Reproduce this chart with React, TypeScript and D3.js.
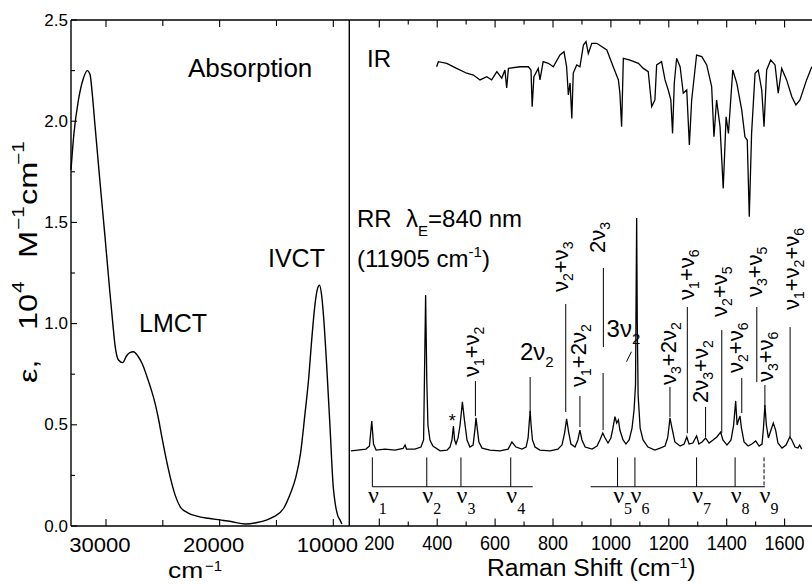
import React from "react";
import * as d3 from "d3";

// ---------- data ----------
// Absorption spectrum: [wavenumber cm-1, epsilon (10^4 M-1 cm-1)]
const absorption: [number, number][] = [
  [33080, 1.76], [32820, 1.94], [32440, 2.1], [32000, 2.21], [31650, 2.25], [31400, 2.23],
  [31200, 2.13], [30970, 1.98], [30530, 1.7], [30090, 1.43], [29650, 1.15], [29400, 1.0],
  [29200, 0.89], [28900, 0.82], [28530, 0.807], [28200, 0.84], [27900, 0.857], [27590, 0.861],
  [27200, 0.84], [26800, 0.8], [26410, 0.74], [26000, 0.67], [25680, 0.606], [25350, 0.52],
  [25090, 0.441], [24700, 0.33], [24360, 0.244], [23900, 0.15], [23470, 0.095], [22800, 0.065],
  [22000, 0.049], [21000, 0.038], [20000, 0.03], [19000, 0.022], [17740, 0.01], [16800, 0.016],
  [15830, 0.03], [15230, 0.046], [14350, 0.089], [13760, 0.163], [13300, 0.24], [12880, 0.36],
  [12500, 0.55], [12150, 0.74], [11900, 0.92], [11600, 1.1], [11400, 1.17], [11220, 1.19],
  [11050, 1.15], [10850, 1.03], [10590, 0.8], [10300, 0.5], [10000, 0.19], [9800, 0.1],
  [9600, 0.05], [9410, 0.03], [9250, 0.01],
];

// IR spectrum (offset trace): [cm-1, relative]
const irSpectrum: [number, number][] = [
  [398, 2.269], [404, 2.294], [433, 2.286], [467, 2.261], [502, 2.237], [525, 2.228], [548, 2.204],
  [571, 2.22], [588, 2.204], [606, 2.245], [623, 2.213], [634, 2.253], [640, 2.164], [646, 2.261],
  [686, 2.269], [715, 2.269], [724, 2.253], [728, 2.072], [734, 2.22], [749, 2.261], [755, 2.204],
  [766, 2.294], [784, 2.286], [801, 2.269], [824, 2.327], [838, 2.343], [847, 2.269], [853, 2.13],
  [859, 2.189], [865, 2.014], [870, 2.238], [882, 2.278], [893, 2.269], [905, 2.376], [914, 2.393],
  [922, 2.335], [934, 2.385], [951, 2.385], [986, 2.352], [1008, 2.269], [1026, 2.204], [1031, 2.139],
  [1037, 1.973], [1043, 2.311], [1066, 2.302], [1095, 2.286], [1112, 2.261], [1129, 2.245],
  [1141, 2.072], [1152, 2.105], [1158, 2.278], [1175, 2.294], [1187, 2.204], [1198, 2.154],
  [1207, 2.105], [1213, 1.94], [1219, 2.189], [1227, 2.311], [1239, 2.269], [1250, 2.138],
  [1262, 2.154], [1271, 1.882], [1279, 2.105], [1296, 2.327], [1314, 2.319], [1331, 2.278],
  [1348, 2.171], [1356, 1.923], [1365, 2.105], [1377, 1.973], [1388, 1.668], [1398, 2.022],
  [1406, 1.94], [1421, 2.253], [1435, 2.187], [1452, 2.055], [1463, 1.923], [1471, 1.907],
  [1478, 1.528], [1486, 1.94], [1498, 2.237], [1509, 2.253], [1521, 2.154], [1529, 1.973],
  [1538, 2.253], [1552, 2.302], [1567, 2.278], [1578, 2.138], [1590, 2.261], [1607, 2.204],
  [1625, 2.121], [1639, 2.08], [1653, 2.105], [1676, 2.204], [1694, 2.269],
];

// Resonance Raman spectrum: [Raman shift cm-1, relative]
const rrSpectrum: [number, number][] = [
  [102, 0.371], [126, 0.375], [154, 0.38], [166, 0.395], [174, 0.519], [180, 0.405], [189, 0.375],
  [220, 0.38], [254, 0.375], [282, 0.383], [289, 0.4], [294, 0.38], [323, 0.38], [344, 0.39],
  [353, 0.425], [356, 0.731], [360, 1.141], [364, 0.721], [368, 0.499], [375, 0.425], [385, 0.395],
  [410, 0.371], [434, 0.375], [444, 0.39], [451, 0.425], [456, 0.494], [460, 0.425], [465, 0.405],
  [472, 0.435], [479, 0.499], [487, 0.613], [494, 0.524], [503, 0.425], [513, 0.39], [524, 0.4],
  [530, 0.474], [534, 0.534], [539, 0.474], [544, 0.415], [555, 0.385], [582, 0.375], [617, 0.371],
  [645, 0.38], [658, 0.415], [672, 0.39], [693, 0.38], [707, 0.39], [714, 0.435], [718, 0.514],
  [721, 0.568], [724, 0.504], [729, 0.425], [738, 0.39], [755, 0.375], [790, 0.371], [817, 0.38],
  [831, 0.4], [840, 0.459], [847, 0.529], [854, 0.464], [862, 0.405], [876, 0.39], [886, 0.425],
  [893, 0.474], [900, 0.425], [911, 0.39], [935, 0.38], [952, 0.395], [962, 0.425], [972, 0.459],
  [980, 0.435], [990, 0.41], [1000, 0.435], [1007, 0.484], [1014, 0.54], [1020, 0.509], [1026, 0.524],
  [1031, 0.474], [1042, 0.425], [1052, 0.405], [1063, 0.425], [1073, 0.484], [1080, 0.573],
  [1085, 0.697], [1087, 1.117], [1089, 1.522], [1091, 1.018], [1094, 0.647], [1101, 0.484],
  [1111, 0.425], [1128, 0.39], [1152, 0.375], [1170, 0.385], [1187, 0.395], [1196, 0.435],
  [1201, 0.494], [1204, 0.534], [1211, 0.484], [1221, 0.415], [1239, 0.395], [1253, 0.405],
  [1262, 0.44], [1270, 0.405], [1283, 0.41], [1296, 0.445], [1304, 0.405], [1315, 0.415],
  [1327, 0.435], [1339, 0.41], [1353, 0.425], [1366, 0.44], [1379, 0.464], [1387, 0.425],
  [1401, 0.4], [1415, 0.425], [1424, 0.499], [1431, 0.618], [1436, 0.499], [1441, 0.524],
  [1446, 0.543], [1451, 0.484], [1460, 0.415], [1474, 0.395], [1487, 0.405], [1500, 0.42],
  [1512, 0.395], [1522, 0.405], [1527, 0.484], [1532, 0.598], [1537, 0.499], [1544, 0.435],
  [1553, 0.474], [1561, 0.509], [1569, 0.474], [1577, 0.41], [1591, 0.385], [1605, 0.4],
  [1613, 0.425], [1618, 0.44], [1625, 0.425], [1636, 0.39], [1646, 0.385], [1652, 0.4], [1659, 0.38],
];

// ticks
const leftXMajor = [30000, 20000, 10000];
const leftXMinor = [25000, 15000];
const yMajor = [0, 0.5, 1.0, 1.5, 2.0, 2.5];
const yMinor = [0.25, 0.75, 1.25, 1.75, 2.25];
const ramanMajor = [200, 400, 600, 800, 1000, 1200, 1400, 1600];
const ramanMinor = [300, 500, 700, 900, 1100, 1300, 1500];

// fundamental modes (bottom markers)
const fundamentals = [
  { n: "1", wn: 176 }, { n: "2", wn: 364 }, { n: "3", wn: 482 }, { n: "4", wn: 654 },
  { n: "5", wn: 1023 }, { n: "6", wn: 1083 }, { n: "7", wn: 1296 }, { n: "8", wn: 1429 },
  { n: "9", wn: 1529 },
];
const fundTop = 0.339;
const fundBase = 0.194;
const bracketSpans: [number, number][] = [[176, 730], [930, 1532]];

// combination / overtone assignments: vertical labels
const combos = [
  { text: "ν_1+ν_2", wn: 532, top: 0.716, bottom: 0.543, tWn: 524, tVal: 0.736 },
  { text: "ν_2+ν_3", wn: 844, top: 1.097, bottom: 0.563, tWn: 831, tVal: 1.156 },
  { text: "ν_1+2ν_2", wn: 893, top: 0.642, bottom: 0.489, tWn: 893, tVal: 0.687 },
  { text: "2ν_3", wn: 974, top: 1.275, bottom: 0.884, tWn: 959, tVal: 1.349 },
  { text: "ν_3+2ν_2", wn: 1204, top: 0.687, bottom: 0.539, tWn: 1204, tVal: 0.697 },
  { text: "ν_1+ν_6", wn: 1264, top: 1.082, bottom: 0.459, tWn: 1266, tVal: 1.117 },
  { text: "2ν_3+ν_2", wn: 1327, top: 0.588, bottom: 0.44, tWn: 1314, tVal: 0.608 },
  { text: "ν_2+ν_5", wn: 1383, top: 0.968, bottom: 0.459, tWn: 1380, tVal: 1.033 },
  { text: "ν_2+ν_6", wn: 1452, top: 0.731, bottom: 0.558, tWn: 1436, tVal: 0.756 },
  { text: "ν_3+ν_5", wn: 1504, top: 1.082, bottom: 0.711, tWn: 1501, tVal: 1.131 },
  { text: "ν_3+ν_6", wn: 1532, top: 0.697, bottom: 0.588, tWn: 1539, tVal: 0.711 },
  { text: "ν_1+ν_2+ν_6", wn: 1619, top: 0.983, bottom: 0.44, tWn: 1629, tVal: 1.067 },
];
// extra marker lines (second 2ν3 segment, 2ν2 line)
const extraLines = [
  { wn: 973, top: 0.756, bottom: 0.474 },
  { wn: 721, top: 0.736, bottom: 0.558 },
];
// horizontal labels
const hLabels = [
  { text: "2ν_2", wn: 686, val: 0.82 },
  { text: "3ν_2", wn: 985, val: 0.934 },
];
const slash: [number, number][] = [[1054, 0.812], [1071, 0.861]];
const star = { wn: 452, val: 0.489 };

// ---------- layout ----------
const W = 812;
const H = 584;
const LX0 = 71;
const DIV = 349.3;
const RX1 = 812;
const TOP = 20;
const BOT = 526;
const FONT = "'Liberation Sans', Arial, Helvetica, sans-serif";
const SERIF = "'Liberation Serif', 'Times New Roman', serif";

const xL = d3.scaleLinear().domain([30000, 10000]).range([106, 333.3]);
const xR = d3.scaleLinear().domain([200, 1600]).range([379.3, 784.6]);
const y = d3.scaleLinear().domain([0, 2.5]).range([BOT, TOP]);

function parse(s: string) {
  const out: { t: string; sub: boolean }[] = [];
  let buf = "";
  for (let i = 0; i < s.length; i++) {
    if (s[i] === "_" && i + 1 < s.length) {
      if (buf) out.push({ t: buf, sub: false });
      buf = "";
      out.push({ t: s[i + 1], sub: true });
      i++;
    } else buf += s[i];
  }
  if (buf) out.push({ t: buf, sub: false });
  return out;
}

function rich(s: string, subSize: number, subDy: number) {
  const ps = parse(s);
  let shifted = false;
  return ps.map((p, i) => {
    let dy = 0;
    if (p.sub && !shifted) { dy = subDy; shifted = true; }
    else if (!p.sub && shifted) { dy = -subDy; shifted = false; }
    return (
      <tspan key={i} dy={dy || undefined} fontSize={p.sub ? subSize : undefined}>
        {p.t}
      </tspan>
    );
  });
}

export default function App() {
  const absLine = d3
    .line<[number, number]>()
    .x((d) => xL(d[0]))
    .y((d) => y(d[1]))
    .curve(d3.curveMonotoneX);
  const rLine = d3
    .line<[number, number]>()
    .x((d) => xR(d[0]))
    .y((d) => y(d[1]));

  const stroke = "#000";
  return (
    <svg
      width={W}
      height={H}
      viewBox={`0 0 ${W} ${H}`}
      style={{ position: "absolute", left: 0, top: 0, background: "#fff" }}
      fontFamily={FONT}
    >
      <rect x={0} y={0} width={W} height={H} fill="#fff" />
      {/* frames */}
      <g stroke={stroke} strokeWidth={1.4} fill="none">
        <line x1={LX0} y1={TOP} x2={RX1} y2={TOP} />
        <line x1={LX0} y1={BOT} x2={RX1} y2={BOT} />
        <line x1={LX0} y1={TOP} x2={LX0} y2={BOT} />
        <line x1={DIV} y1={TOP} x2={DIV} y2={BOT} />
      </g>
      {/* ticks */}
      <g stroke={stroke} strokeWidth={1.1}>
        {leftXMajor.map((v) => (
          <g key={"lm" + v}>
            <line x1={xL(v)} x2={xL(v)} y1={BOT} y2={BOT - 7} />
            <line x1={xL(v)} x2={xL(v)} y1={TOP} y2={TOP + 7} />
          </g>
        ))}
        {leftXMinor.map((v) => (
          <g key={"ln" + v}>
            <line x1={xL(v)} x2={xL(v)} y1={BOT} y2={BOT - 6} />
            <line x1={xL(v)} x2={xL(v)} y1={TOP} y2={TOP + 6} />
          </g>
        ))}
        {yMajor.map((v) => (
          <line key={"ym" + v} x1={LX0} x2={LX0 + 6} y1={y(v)} y2={y(v)} />
        ))}
        {yMinor.map((v) => (
          <line key={"yn" + v} x1={LX0} x2={LX0 + 4} y1={y(v)} y2={y(v)} />
        ))}
        {ramanMajor.map((v) => (
          <g key={"rm" + v}>
            <line x1={xR(v)} x2={xR(v)} y1={BOT} y2={BOT - 7.5} />
            <line x1={xR(v)} x2={xR(v)} y1={TOP} y2={TOP + 7.5} />
          </g>
        ))}
        {ramanMinor.map((v) => (
          <g key={"rn" + v}>
            <line x1={xR(v)} x2={xR(v)} y1={BOT} y2={BOT - 4.5} />
            <line x1={xR(v)} x2={xR(v)} y1={TOP} y2={TOP + 4.5} />
          </g>
        ))}
      </g>
      {/* tick labels */}
      <g fontSize={17} textAnchor="end" fill="#000">
        {yMajor.map((v) => (
          <text key={"yl" + v} x={68} y={y(v) + 5.5}>
            {v.toFixed(1)}
          </text>
        ))}
      </g>
      <g fontSize={21} textAnchor="middle" fill="#000">
        {leftXMajor.map((v) => (
          <text key={"xl" + v} transform={`translate(${xL(v) - 6},552) scale(1.05,1)`}>
            {v}
          </text>
        ))}
      </g>
      <g fontSize={20} textAnchor="middle" fill="#000">
        {ramanMajor.map((v) => (
          <text key={"xr" + v} transform={`translate(${xR(v)},550) scale(0.9,1)`}>
            {v}
          </text>
        ))}
      </g>
      {/* axis titles */}
      <text transform="translate(37,383) rotate(-90) scale(1.3,1)" fontSize={25} fill="#000">
        <tspan x={0}>ε,</tspan>
        <tspan x={40.8}>10</tspan>
        <tspan x={69.2} dy={-13} fontSize={16}>4</tspan>
        <tspan x={96.2} dy={13}>M</tspan>
        <tspan x={117.7} dy={-13} fontSize={16}>−1</tspan>
        <tspan x={137} dy={13}>cm</tspan>
        <tspan x={167.7} dy={-13} fontSize={16}>−1</tspan>
      </text>
      <text transform="translate(168,578) scale(1.2,1)" fontSize={22} fill="#000">
        cm
      </text>
      <text x={205} y={571} fontSize={15} fill="#000">−1</text>
      <text transform="translate(487,576) scale(1.05,1)" fontSize={23.5} fill="#000">
        Raman Shift (cm
        <tspan dy={-8} fontSize={14}>−1</tspan>
        <tspan dy={8}>)</tspan>
      </text>

      {/* left panel content */}
      <path d={absLine(absorption) || ""} fill="none" stroke={stroke} strokeWidth={1.4} />
      <g fontSize={25} fill="#000">
        <text x={188} y={77} fontSize={26}>Absorption</text>
        <text x={268} y={267}>IVCT</text>
        <text x={139} y={332}>LMCT</text>
      </g>

      {/* right panel content */}
      <path d={rLine(irSpectrum) || ""} fill="none" stroke={stroke} strokeWidth={1.3} />
      <path d={rLine(rrSpectrum) || ""} fill="none" stroke={stroke} strokeWidth={1.3} />
      <g fontSize={24} fill="#000">
        <text x={367} y={67}>IR</text>
        <text x={357} y={227}>RR</text>
        <text x={406} y={227}>
          λ
          <tspan dy={9} fontSize={15}>E</tspan>
          <tspan dy={-9}>=840 nm</tspan>
        </text>
        <text x={357} y={267}>
          (11905 cm
          <tspan dy={-10} fontSize={15}>-1</tspan>
          <tspan dy={10}>)</tspan>
        </text>
      </g>

      {/* assignment lines */}
      <g stroke={stroke} strokeWidth={1}>
        {combos.map((c, i) => (
          <line key={"cl" + i} x1={xR(c.wn)} x2={xR(c.wn)} y1={y(c.top)} y2={y(c.bottom)} />
        ))}
        {extraLines.map((c, i) => (
          <line key={"el" + i} x1={xR(c.wn)} x2={xR(c.wn)} y1={y(c.top)} y2={y(c.bottom)} />
        ))}
        <line x1={xR(slash[0][0])} y1={y(slash[0][1])} x2={xR(slash[1][0])} y2={y(slash[1][1])} />
      </g>
      <g fontSize={22} fill="#000">
        {combos.map((c, i) => (
          <text
            key={"ct" + i}
            transform={`translate(${xR(c.tWn) + 6},${y(c.tVal)}) rotate(-90)`}
          >
            {rich(c.text, 14, 5)}
          </text>
        ))}
        {hLabels.map((h, i) => (
          <text key={"hl" + i} x={xR(h.wn)} y={y(h.val)} fontSize={24}>
            {rich(h.text, 15, 7)}
          </text>
        ))}
        <text x={xR(star.wn)} y={y(star.val)} fontSize={18} textAnchor="middle">
          *
        </text>
      </g>

      {/* fundamentals */}
      <g stroke={stroke} strokeWidth={1}>
        {fundamentals.map((f) => (
          <line
            key={"fl" + f.n}
            x1={xR(f.wn)}
            x2={xR(f.wn)}
            y1={y(fundTop)}
            y2={y(fundBase)}
            strokeDasharray={f.n === "9" ? "4,2" : undefined}
          />
        ))}
        {bracketSpans.map((b, i) => (
          <line key={"br" + i} x1={xR(b[0])} x2={xR(b[1])} y1={y(fundBase)} y2={y(fundBase)} />
        ))}
      </g>
      <g fontFamily={SERIF} fill="#000">
        {fundamentals.map((f) => (
          <g key={"ft" + f.n}>
            <text x={xR(f.wn) + 1} y={503} fontSize={24} textAnchor="middle">
              ν
            </text>
            <text x={xR(f.wn) + 10.5} y={514} fontSize={16} textAnchor="middle">
              {f.n}
            </text>
          </g>
        ))}
      </g>
    </svg>
  );
}
